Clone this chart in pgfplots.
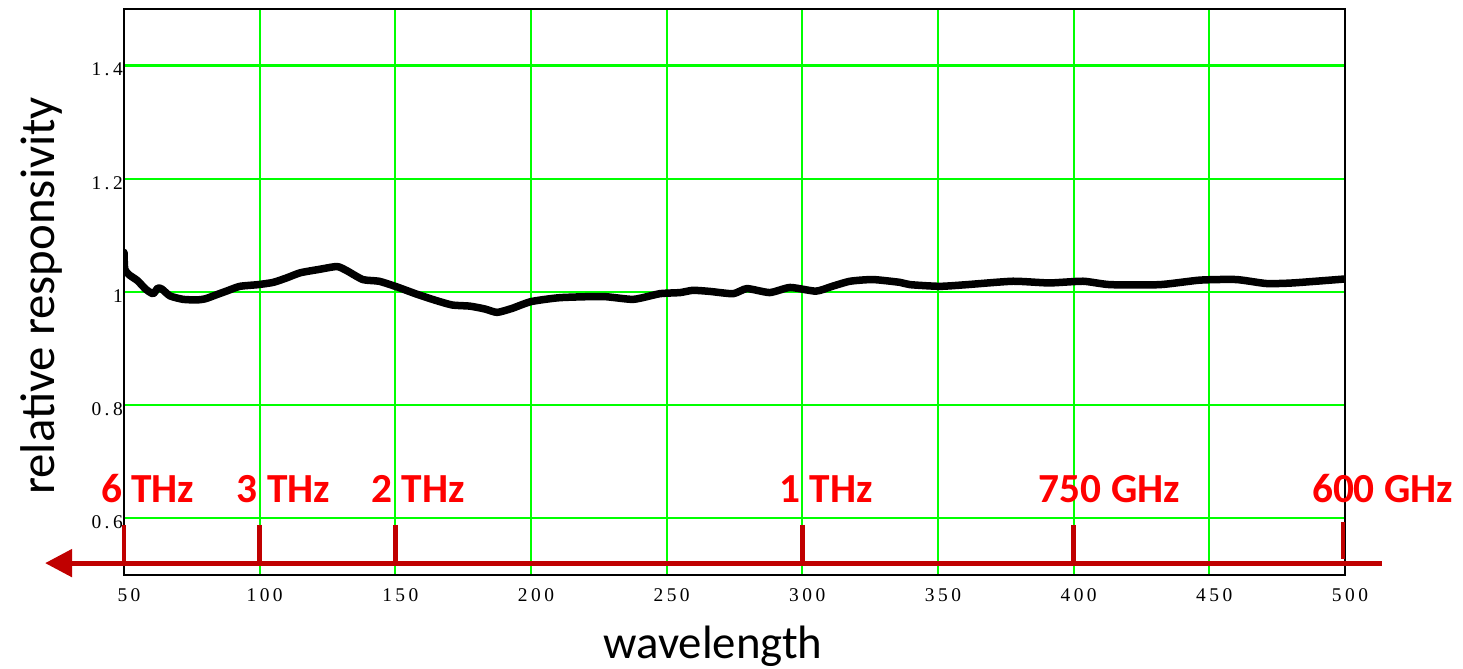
\documentclass[border=0pt]{standalone}
\usepackage{pgfplots}
\pgfplotsset{compat=1.18}
\usepackage{fontspec}
\setmainfont{Liberation Serif}
\newfontfamily\carlito{Carlito}
\newfontfamily\tickfont[LetterSpace=18]{Liberation Serif}
\usetikzlibrary{arrows.meta}
\definecolor{gridgreen}{HTML}{00FF00}
\definecolor{arrowred}{HTML}{C00000}
\definecolor{labelred}{HTML}{FF0000}

\begin{document}
\begin{tikzpicture}
\useasboundingbox (0,0) rectangle (1463bp,669bp);
\begin{axis}[
  at={(124bp,94bp)}, anchor=south west,
  scale only axis, width=1221bp, height=566bp,
  xmin=50, xmax=500, ymin=0.5, ymax=1.5,
  xtick={50,100,...,500}, ytick={0.6,0.8,1.0,1.2,1.4},
  grid=major, major grid style={color=gridgreen, line width=2.2bp},
  major tick length=0pt,
  axis line style={black, line width=1.5bp},
  clip mode=individual,
  /pgf/number format/assume math mode=true,
  xticklabel style={font=\tickfont\fontsize{19.5}{22}\selectfont, anchor=north, inner sep=0pt, yshift=-13bp, xshift=5bp},
  yticklabel style={font=\tickfont\fontsize{19.5}{22}\selectfont, anchor=east, inner sep=0pt, xshift=-1bp, yshift=-4bp},
  xlabel={wavelength}, ylabel={relative responsivity},
  xlabel style={font=\carlito\fontsize{47}{56}\selectfont, at={(axis description cs:0.4824,-0.1475)}, anchor=base},
  ylabel style={font=\carlito\fontsize{49}{56}\selectfont, at={(axis description cs:-0.0676,0.493)}, anchor=center},
]
\addplot[black, line width=7.5bp, line join=round, line cap=round, smooth, tension=0.35] coordinates {
(50,1.07) (50.3,1.04) (52,1.03) (55,1.02) (58,1.005) (60.7,0.997) (62.5,1.007) (64,1.005)
(67,0.993) (71.8,0.987) (76.8,0.986) (80,0.988) (84,0.995) (88,1.002) (92.7,1.01)
(99.4,1.013) (105,1.017) (110,1.025) (115,1.034) (122,1.04) (128.5,1.045) (132,1.038)
(138,1.022) (144,1.019) (150,1.01) (158,0.996) (165,0.985) (171,0.977) (177.5,0.975)
(183,0.97) (187.5,0.964) (193,0.971) (200,0.983) (210.7,0.99) (226.5,0.992) (237.7,0.987)
(247.5,0.997) (255,0.999) (259.7,1.003) (266,1.001) (274.5,0.997) (279.6,1.006) (288,0.999)
(295.5,1.008) (305,1.0015) (311,1.01) (317.6,1.019) (326,1.022) (336,1.017) (339.7,1.013)
(350.7,1.01) (360.7,1.013) (377.6,1.019) (391,1.016) (403.5,1.019) (413.4,1.013)
(431.8,1.013) (446.6,1.021) (460,1.022) (471,1.015) (480.8,1.016) (500,1.023)
};
% frequency arrow
\draw[arrowred, line width=5bp, -{Triangle[length=27bp,width=27bp]}] (axis cs:513.6,0.521) -- (axis cs:20.9,0.521);
\draw[arrowred, line width=4.5bp] (axis cs:50,0.5885) -- (axis cs:50,0.521);
\draw[arrowred, line width=4.5bp] (axis cs:100,0.5885) -- (axis cs:100,0.521);
\draw[arrowred, line width=4.5bp] (axis cs:150,0.5885) -- (axis cs:150,0.521);
\draw[arrowred, line width=4.5bp] (axis cs:300,0.5885) -- (axis cs:300,0.521);
\draw[arrowred, line width=4.5bp] (axis cs:400,0.5885) -- (axis cs:400,0.521);
\draw[arrowred, line width=4.5bp] (axis cs:499.3,0.594) -- (axis cs:499.3,0.528);
\node[font=\carlito\bfseries\fontsize{41.5}{48}\selectfont, text=labelred, anchor=base west, inner sep=0pt] at (axis cs:41.5,0.6274) {6 THz};
\node[font=\carlito\bfseries\fontsize{41.5}{48}\selectfont, text=labelred, anchor=base west, inner sep=0pt] at (axis cs:91.5,0.6274) {3 THz};
\node[font=\carlito\bfseries\fontsize{41.5}{48}\selectfont, text=labelred, anchor=base west, inner sep=0pt] at (axis cs:141.2,0.6274) {2 THz};
\node[font=\carlito\bfseries\fontsize{41.5}{48}\selectfont, text=labelred, anchor=base west, inner sep=0pt] at (axis cs:291.5,0.6274) {1 THz};
\node[font=\carlito\bfseries\fontsize{41.5}{48}\selectfont, text=labelred, anchor=base west, inner sep=0pt] at (axis cs:387.1,0.6274) {750 GHz};
\node[font=\carlito\bfseries\fontsize{41.5}{48}\selectfont, text=labelred, anchor=base west, inner sep=0pt] at (axis cs:487.8,0.6274) {600 GHz};
\end{axis}
\end{tikzpicture}
\end{document}
